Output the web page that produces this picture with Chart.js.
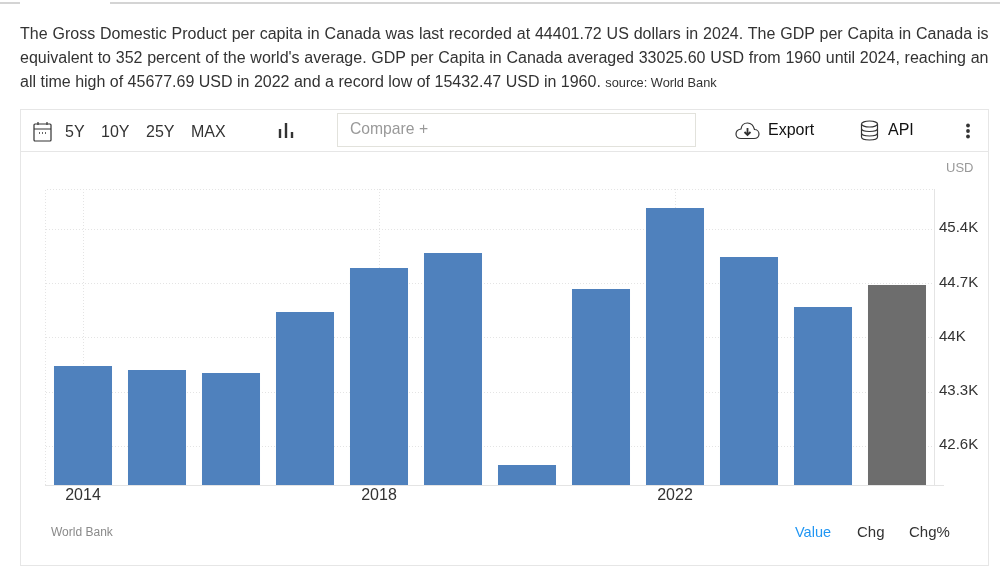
<!DOCTYPE html>
<html>
<head>
<meta charset="utf-8">
<script src="https://cdn.jsdelivr.net/npm/chart.js@4"></script>
<style>
    html, body { margin: 0; padding: 0; background: #fff; }
    body { width: 1000px; height: 576px; position: relative; overflow: hidden; font-family: "Liberation Sans", Arial, sans-serif; color: #333; }
    canvas { position: absolute; left: 0; top: 0; }
    .abs { position: absolute; white-space: nowrap; line-height: 20px; }
    .line { position: absolute; background: #d4d4d4; height: 2px; top: 2px; }
    #intro { position: absolute; left: 20px; top: 22px; width: 968.5px; font-size: 16px; line-height: 24px; text-align: justify; color: #333; }
    #intro small { font-size: 12.8px; }
    #card { position: absolute; left: 20px; top: 109px; width: 967px; height: 455px; border: 1px solid #e6e6e6; }
    #divider { position: absolute; left: 21px; top: 151px; width: 967px; height: 1px; background: #e6e6e6; }
    #compare { position: absolute; left: 337px; top: 113px; width: 357px; height: 32px; border: 1px solid #e2e2dc; }
    svg { position: absolute; fill: none; stroke: #333; stroke-width: 1.2; }
</style>
</head>
<body>
<canvas id="gdpChart" width="1000" height="576"></canvas>

<div class="line" style="left:0;width:20px"></div>
<div class="line" style="left:110px;width:890px"></div>
<div id="intro">The Gross Domestic Product per capita in Canada was last recorded at 44401.72 US dollars in 2024. The GDP per Capita in Canada is equivalent to 352 percent of the world's average. GDP per Capita in Canada averaged 33025.60 USD from 1960 until 2024, reaching an all time high of 45677.69 USD in 2022 and a record low of 15432.47 USD in 1960. <small>source: World Bank</small></div>

<div id="card"></div>
<div id="divider"></div>
<div id="compare"></div>

<svg style="left:33px;top:121px" width="19" height="21" viewBox="0 0 19 21">
    <rect x="1" y="3" width="17" height="17" rx="1"/><path d="M1 8H18M5 1V4M14 1V4"/><path d="M6 12H7M9 12H10M12 12H13" stroke-width="1.5"/>
</svg>
<span class="abs" style="left:65px;top:122px;font-size:16px">5Y</span>
<span class="abs" style="left:101px;top:122px;font-size:16px">10Y</span>
<span class="abs" style="left:146px;top:122px;font-size:16px">25Y</span>
<span class="abs" style="left:191px;top:122px;font-size:16px">MAX</span>
<svg style="left:278px;top:121px;stroke-width:2.4" width="16" height="18" viewBox="0 0 16 18"><path d="M2 8V17M8 2V17M14 11V17"/></svg>
<span class="abs" style="left:350px;top:119px;font-size:15.7px;color:#999">Compare +</span>

<svg style="left:735px;top:122px" width="25" height="18" viewBox="0 0 25 18">
    <path d="M6 16.5H19C22 16.5 24 14.5 24 12C24 9.5 22 7.5 19.5 7.5C18.5 3.5 15.5 1 12.5 1C9 1 6.5 3.500 6 7C3 7.500 1 9.500 1 12C1 14.500 3 16.500 6 16.500Z"/>
    <path d="M12.500 6V12M9.500 10L12.500 13L15.500 10" stroke-width="1.800"/>
</svg>
<span class="abs" style="left:768px;top:120px;font-size:16px;color:#111">Export</span>
<svg style="left:860px;top:120px" width="19" height="21" viewBox="0 0 19 21">
    <ellipse cx="9.500" cy="4" rx="8" ry="3"/><path d="M1.500 4V17C1.500 18.700 5 20 9.500 20C14 20 17.500 18.700 17.500 17V4M1.500 8.500C1.500 10.200 5 11.500 9.500 11.500C14 11.500 17.500 10.200 17.500 8.500M1.500 13C1.500 14.700 5 16 9.500 16C14 16 17.500 14.700 17.500 13"/>
</svg>
<span class="abs" style="left:888px;top:120px;font-size:16px;color:#111">API</span>
<svg style="left:965px;top:123px;fill:#333;stroke:none" width="6" height="16" viewBox="0 0 6 16"><circle cx="3" cy="2.500" r="1.900"/><circle cx="3" cy="8" r="1.900"/><circle cx="3" cy="13.500" r="1.900"/></svg>

<span class="abs" style="left:946px;top:158px;font-size:13px;color:#999">USD</span>
<span class="abs" style="left:51px;top:522px;font-size:12px;color:#8a8a8a">World Bank</span>
<span class="abs" style="left:795px;top:522px;font-size:14.5px;color:#2196f3">Value</span>
<span class="abs" style="left:857px;top:522px;font-size:15px">Chg</span>
<span class="abs" style="left:909px;top:522px;font-size:15px">Chg%</span>

<script>
const years = ['2014', '2015', '2016', '2017', '2018', '2019', '2020', '2021', '2022', '2023', '2024', '2025'];
const gdpValues = [43636, 43585, 43546, 44333, 44901, 45094, 42359, 44630, 45675, 45043, 44398, 44681];
const barColors = ['#4f81bd', '#4f81bd', '#4f81bd', '#4f81bd', '#4f81bd', '#4f81bd', '#4f81bd', '#4f81bd', '#4f81bd', '#4f81bd', '#4f81bd', '#6d6d6d'];
const xTickLabels = ['2014', '2018', '2022'];
const yTickValues = [42600, 43300, 44000, 44700, 45400];
const yTickLabels = ['42.6K', '43.3K', '44K', '44.7K', '45.4K'];

const gridColor = '#e4e4e4';

// dotted frame around the plot, and the baseline running on past the y axis
const plotFrame = {
    id: 'plotFrame',
    beforeDatasetsDraw(chart) {
        const { ctx, chartArea: a } = chart;
        ctx.save();
        ctx.strokeStyle = gridColor;
        ctx.lineWidth = 1;
        ctx.setLineDash([1, 2]);
        ctx.beginPath();
        ctx.moveTo(a.left - 0.5, a.bottom);
        ctx.lineTo(a.left - 0.5, a.top + 0.5);
        ctx.lineTo(a.right, a.top + 0.5);
        ctx.stroke();
        ctx.setLineDash([]);
        ctx.beginPath();
        ctx.moveTo(a.left - 1, a.bottom + 0.5);
        ctx.lineTo(a.right + 10, a.bottom + 0.5);
        ctx.stroke();
        ctx.restore();
    }
};

new Chart(document.getElementById('gdpChart'), {
    type: 'bar',
    data: {
        labels: years,
        datasets: [{
            data: gdpValues,
            backgroundColor: barColors,
            barPercentage: 0.784,
            categoryPercentage: 1
        }]
    },
    options: {
        responsive: false,
        animation: false,
        layout: { padding: { left: 46, top: 189, right: 0, bottom: 61 } },
        plugins: { legend: { display: false }, tooltip: { enabled: false } },
        scales: {
            x: {
                afterFit: (scale) => { scale.height = 30; },
                border: { color: gridColor, dash: [1, 2] },
                grid: {
                    offset: false,
                    drawTicks: false,
                    color: (c) => xTickLabels.includes(years[c.index]) ? gridColor : 'transparent'
                },
                ticks: {
                    autoSkip: false,
                    maxRotation: 0,
                    padding: 1,
                    color: '#333',
                    font: { family: '"Liberation Sans", Arial, sans-serif', size: 16 },
                    callback: (v, i) => xTickLabels.includes(years[i]) ? years[i] : ''
                }
            },
            y: {
                position: 'right',
                min: 42101,
                max: 45920,
                afterFit: (scale) => { scale.width = 66; },
                afterBuildTicks: (scale) => { scale.ticks = yTickValues.map(value => ({ value })); },
                border: { color: gridColor, dash: [1, 2] },
                grid: { drawTicks: false, color: gridColor },
                ticks: {
                    padding: 5,
                    color: '#333',
                    // empty second line lifts the label 1px above its grid line
                    font: { family: '"Liberation Sans", Arial, sans-serif', size: 15, lineHeight: '2px' },
                    callback: (v) => [yTickLabels[yTickValues.indexOf(v)], '']
                }
            }
        }
    },
    plugins: [plotFrame]
});
</script>
</body>
</html>
